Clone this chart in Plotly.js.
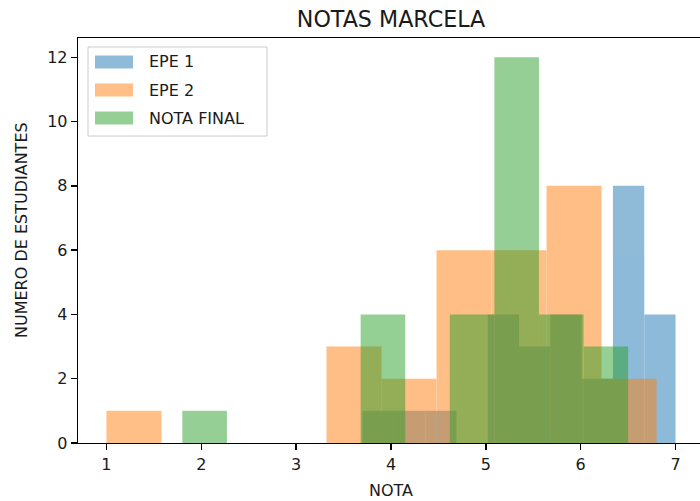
<!DOCTYPE html>
<html>
<head>
<meta charset="utf-8">
<script src="https://cdn.plot.ly/plotly-3.0.1.min.js"></script>
<style>
  html, body { margin: 0; padding: 0; overflow: hidden; background: #fff; }
</style>
</head>
<body>
<div id="chart"></div>
<script>
// Grade histograms: each series is split into 10 equal bins between its lowest and highest grade.
const seriesNames = ['EPE 1', 'EPE 2', 'NOTA FINAL'];
const seriesColors = ['#1f77b4', '#ff7f0e', '#2ca02c'];

const epe1Range = [3.7, 7.0];
const epe1Counts = [1, 1, 1, 0, 4, 3, 4, 2, 8, 4];

const epe2Range = [1.0, 6.8];
const epe2Counts = [1, 0, 0, 0, 3, 2, 6, 6, 8, 2];

const finalRange = [1.8, 6.5];
const finalCounts = [1, 0, 0, 0, 4, 0, 4, 12, 4, 3];

const xTicks = [1, 2, 3, 4, 5, 6, 7];
const yTicks = [0, 2, 4, 6, 8, 10, 12];

const titleText = 'NOTAS MARCELA';
const xTitle = 'NOTA';
const yTitle = 'NUMERO DE ESTUDIANTES';

const FONT = 'DejaVu Sans, Liberation Sans, sans-serif';
const INK = '#1a1a1a';

function histTrace(range, counts, color, name) {
  const n = counts.length;
  const w = (range[1] - range[0]) / n;
  const lefts = counts.map((_, i) => range[0] + i * w);
  return {
    type: 'bar',
    name: name,
    x: lefts,
    y: counts,
    width: counts.map(() => w),
    offset: 0,
    marker: { color: color, line: { width: 0 } },
    opacity: 0.5,
    showlegend: false,
    hoverinfo: 'x+y'
  };
}

const traces = [
  histTrace(epe1Range, epe1Counts, seriesColors[0], seriesNames[0]),
  histTrace(epe2Range, epe2Counts, seriesColors[1], seriesNames[1]),
  histTrace(finalRange, finalCounts, seriesColors[2], seriesNames[2])
];

// Plot area geometry (pixels)
const W = 704, H = 501;
const M = { l: 78, r: 0, t: 38, b: 58 };
const PW = W - M.l - M.r, PH = H - M.t - M.b;
const px2x = p => (p - M.l) / PW;
const px2y = p => 1 - (p - M.t) / PH;

function hexToRgba(hex, a) {
  const v = parseInt(hex.slice(1), 16);
  return `rgba(${(v >> 16) & 255},${(v >> 8) & 255},${v & 255},${a})`;
}

// Legend drawn as a framed box with wide colour patches
const shapes = [{
  type: 'rect', xref: 'paper', yref: 'paper',
  x0: px2x(88), x1: px2x(267), y0: px2y(136), y1: px2y(47),
  fillcolor: 'rgba(255,255,255,0.8)',
  line: { color: '#cccccc', width: 1 },
  layer: 'above'
}];
const annotations = [];
seriesNames.forEach((name, i) => {
  const cy = 62 + i * 28;
  shapes.push({
    type: 'rect', xref: 'paper', yref: 'paper',
    x0: px2x(95), x1: px2x(133), y0: px2y(cy + 6.5), y1: px2y(cy - 6.5),
    fillcolor: hexToRgba(seriesColors[i], 0.5),
    line: { width: 0 },
    layer: 'above'
  });
  annotations.push({
    xref: 'paper', yref: 'paper',
    x: px2x(147), y: px2y(cy),
    xanchor: 'left', yanchor: 'middle',
    text: name, showarrow: false,
    font: { family: FONT, size: 16, color: INK }
  });
});

// Axis titles
annotations.push({
  xref: 'paper', yref: 'paper',
  x: px2x(391), y: px2y(490),
  xanchor: 'center', yanchor: 'middle',
  text: xTitle, showarrow: false,
  font: { family: FONT, size: 16, color: INK }
});
annotations.push({
  xref: 'paper', yref: 'paper',
  x: px2x(21), y: px2y(230),
  xanchor: 'center', yanchor: 'middle',
  textangle: -90,
  text: yTitle, showarrow: false,
  font: { family: FONT, size: 16, color: INK }
});

const axisCommon = {
  showgrid: false,
  zeroline: false,
  showline: true,
  linecolor: '#000',
  linewidth: 1.3,
  mirror: true,
  ticks: 'outside',
  ticklen: 6,
  tickwidth: 1.3,
  tickcolor: '#000',
  tickfont: { family: FONT, size: 16, color: INK },
  fixedrange: true
};

const layout = {
  width: W,
  height: H,
  margin: M,
  paper_bgcolor: '#fff',
  plot_bgcolor: '#fff',
  barmode: 'overlay',
  showlegend: false,
  font: { family: FONT, color: INK },
  title: {
    text: titleText,
    font: { family: FONT, size: 22.2, color: INK },
    x: 0.5, xref: 'paper',
    y: 1 - 19 / H, yref: 'container', yanchor: 'middle'
  },
  xaxis: Object.assign({}, axisCommon, {
    range: [0.7, 7.3],
    tickvals: xTicks,
    ticktext: xTicks.map(String)
  }),
  yaxis: Object.assign({}, axisCommon, {
    range: [0, 12.6],
    tickvals: yTicks,
    ticktext: yTicks.map(String)
  }),
  shapes: shapes,
  annotations: annotations
};

Plotly.newPlot('chart', traces, layout, { displayModeBar: false, staticPlot: true });
</script>
</body>
</html>
